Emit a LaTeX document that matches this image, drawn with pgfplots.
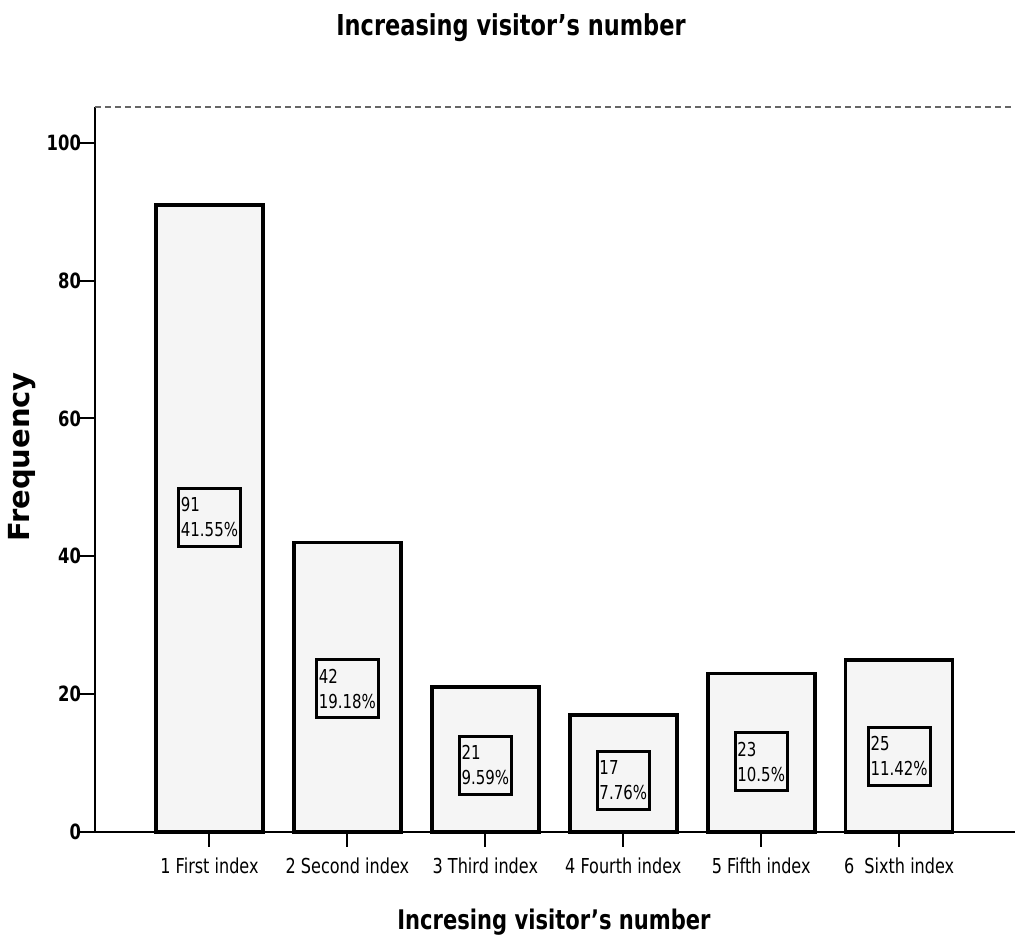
\documentclass[border=0pt]{standalone}
\usepackage{fontspec}
\setmainfont{DejaVu Sans}[FakeStretch=0.78]
\newfontfamily\freqfont{DejaVu Sans}
\usepackage{pgfplots}
\pgfplotsset{compat=1.18}
\begin{document}
\begin{tikzpicture}
\useasboundingbox (-47.5pt,-54.5pt) rectangle ++(508.5pt,470.5pt);
\begin{axis}[
  at={(0pt,0pt)}, anchor=south west,
  width=460pt, height=362.5pt, scale only axis,
  xmin=0.17, xmax=6.84, ymin=0, ymax=105.2,
  axis lines*=left,
  axis line style={line width=1pt},
  tick align=outside,
  major tick length=7.5pt,
  tick style={line width=1pt, black},
  ytick={0,20,40,60,80,100},
  xtick={1,2,3,4,5,6},
  xticklabels={1 First index, 2 Second index, 3 Third index, 4 Fourth index, 5 Fifth index, 6\ \ Sixth index},
  xticklabel style={font=\fontsize{10.3}{11}\selectfont, yshift=-2pt},
  yticklabel style={font=\fontsize{10.5}{11}\selectfont\bfseries, xshift=4pt},
  /pgf/number format/assume math mode=true,
  clip=false,
]
\addplot[ybar, bar width=53.5pt, fill=black!4, draw=black, line width=1.8pt]
  coordinates {(1,91) (2,42) (3,21) (4,17) (5,23) (6,25)};
\addplot[only marks, mark=none, nodes near coords, point meta=explicit symbolic,
  every node near coord/.style={draw=black, line width=1.5pt, align=left, anchor=center,
    inner xsep=1.2pt, inner ysep=3pt, font=\fontsize{9.6}{12.5}\selectfont, text=black, minimum height=29pt}]
  coordinates {(1,45.7) [91\\41.55\%] (2,20.8) [42\\19.18\%] (3,9.7) [21\\9.59\%]
   (4,7.5) [17\\7.76\%] (5,10.2) [23\\10.5\%] (6,11) [25\\11.42\%]};
\draw[densely dashed, black!60, line width=0.6pt] (rel axis cs:0,1) -- (rel axis cs:1,1);
\end{axis}
\node[font=\fontsize{14.4}{16}\selectfont\bfseries] at (208pt,402pt) {Increasing visitor's number};
\node[font=\fontsize{13.5}{15}\selectfont\bfseries] at (229.5pt,-45pt) {Incresing visitor's number};
\node[font=\freqfont\fontsize{14.5}{15}\selectfont\bfseries, rotate=90] at (-36.5pt,187.5pt) {Frequency};
\end{tikzpicture}
\end{document}
